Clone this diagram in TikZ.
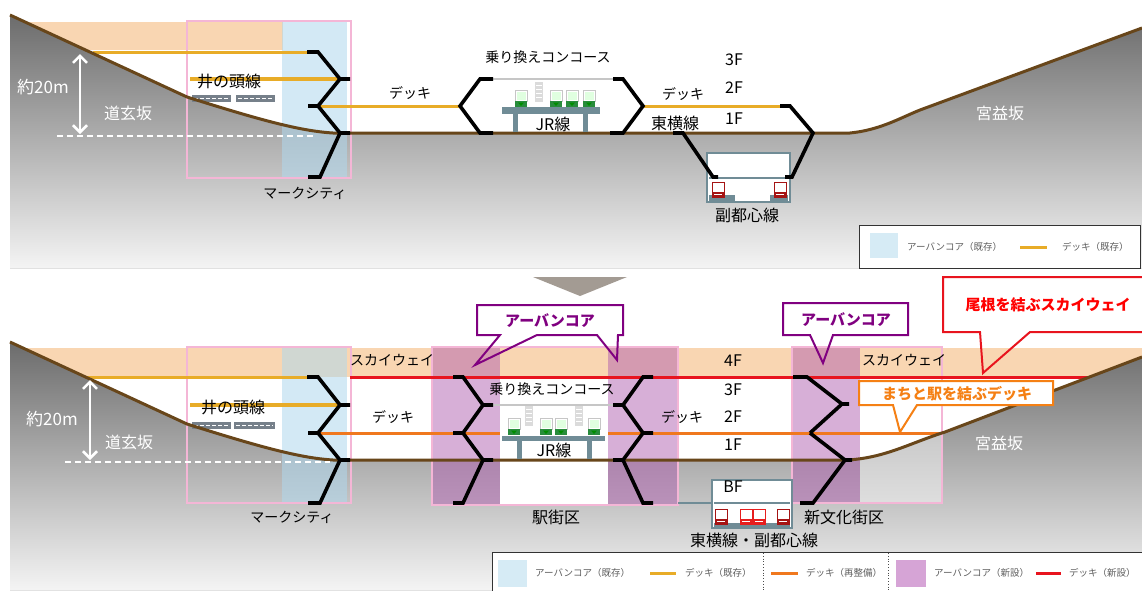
\documentclass[tikz,border=0pt]{standalone}
\usepackage{fontspec}
\setmainfont{Noto Sans CJK JP}
\usetikzlibrary{arrows.meta}

\definecolor{peach}{RGB}{249,214,178}
\definecolor{corebl}{RGB}{176,216,238}
\definecolor{legbl}{RGB}{214,235,245}
\definecolor{corepur}{RGB}{176,96,176}
\definecolor{legpur}{RGB}{214,164,214}
\definecolor{deckyel}{RGB}{232,172,40}
\definecolor{deckora}{RGB}{240,120,30}
\definecolor{deckred}{RGB}{232,20,30}
\definecolor{boxpink}{RGB}{244,182,214}
\definecolor{soil}{RGB}{104,70,26}
\definecolor{steel}{RGB}{112,140,150}
\definecolor{railgray}{RGB}{118,128,138}
\definecolor{calpur}{RGB}{128,0,128}
\definecolor{calora}{RGB}{245,128,20}
\definecolor{legtxt}{RGB}{95,95,95}
\definecolor{wedge}{RGB}{163,155,147}
\definecolor{jrgreen}{RGB}{40,140,60}
\definecolor{trainred}{RGB}{165,20,20}
\definecolor{trainbright}{RGB}{230,30,30}
\definecolor{gtop}{RGB}{108,108,108}
\definecolor{gmid}{RGB}{150,150,150}
\definecolor{gbot}{RGB}{244,244,244}

\tikzset{
  jrtrain/.pic={
    \fill[white] (0,0) rectangle (12,17);
    \draw[gray!45, line width=0.8pt] (0,0) rectangle (12,11);
    \fill[green!12] (1.5,1.5) rectangle (10.5,9.5);
    \fill[jrgreen] (0,11) rectangle (12,17);
    \fill[green!55!black] (3,12.5) -- (9,12.5) -- (6,16) -- cycle;
  },
  redtrain/.pic={
    \fill[white] (0,0) rectangle (12,15);
    \fill[trainred] (0,10) rectangle (12,15);
    \draw[trainred, line width=0.8pt] (0,0) rectangle (12,15);
    \draw[white, line width=0.6pt] (2,12.5) -- (10,12.5);
  },
  redtrainb/.pic={
    \fill[white] (0,0) rectangle (12,15);
    \fill[trainbright] (0,10) rectangle (12,15);
    \draw[trainbright, line width=0.8pt] (0,0) rectangle (12,15);
    \draw[white, line width=0.6pt] (2,12.5) -- (10,12.5);
  },
  stairs/.pic={
    \fill[gray!28] (0,0) rectangle (8,20);
    \foreach \k in {3,7,11,15}{\draw[white, line width=1pt] (1,\k) -- (7,\k);}
  }
}

\begin{document}
\begin{tikzpicture}[x=1pt,y=-1pt,
  conn/.style={line width=3.6pt, black, line join=miter},
  deckline/.style={line width=3pt},
  railline/.style={line width=4pt, deckyel},
  surface/.style={soil, line width=3pt, line join=round},
  lbl/.style={inner sep=0pt, font=\fontsize{16}{19}\selectfont},
  lblk/.style={inner sep=0pt, font=\fontsize{14}{17}\selectfont},
  wlbl/.style={inner sep=0pt, text=white, font=\fontsize{16}{19}\selectfont},
  calltxt/.style={inner sep=0pt, font=\bfseries\fontsize{15}{18}\selectfont},
  leg/.style={inner sep=0pt, text=legtxt, font=\fontsize{9.5}{12}\selectfont},
  levelarrow/.style={white, line width=2.5pt,
    {Straight Barb[length=7pt,width=14pt]}-{Straight Barb[length=7pt,width=14pt]}},
  levelmark/.style={white, line width=1.2pt, dash pattern=on 6pt off 4pt},
  corebox/.style={boxpink, line width=2pt}
]
\useasboundingbox (0,0) rectangle (1142,590);
\fill[white] (0,0) rectangle (1142,590);

% ================= upper section: present state =================
\fill[peach] (10,22) rectangle (283,50);
\fill[top color=gtop, middle color=gmid, bottom color=gbot]
  (10,15) -- (187,97) .. controls (260,120) and (300,131) .. (333,133)
  -- (850,133) .. controls (880,130) and (900,118) .. (920,110)
  -- (1142,28) -- (1142,268) -- (10,268) -- cycle;
\fill[corebl, opacity=0.55] (282,22) rectangle (347,178);
\draw[corebox] (187,21) rectangle (351,178);

% decks and rails
\draw[deckline, deckyel] (93,52) -- (307,52);
\draw[railline] (190,79) -- (340,79);
\draw[deckline, deckyel] (318,106) -- (460,106);
\draw[deckline, deckyel] (643,106) -- (780,106);
\fill[railgray] (192,95) rectangle (231,102);
\fill[railgray] (236,95) rectangle (275,102);
\draw[white, line width=1.2pt, dash pattern=on 4pt off 2pt] (194,98.5) -- (229,98.5);
\draw[white, line width=1.2pt, dash pattern=on 4pt off 2pt] (238,98.5) -- (273,98.5);

% ground surface
\draw[surface] (10,15) -- (187,97) .. controls (260,120) and (300,131) .. (333,133)
  -- (850,133) .. controls (880,130) and (900,118) .. (920,110) -- (1142,28);

% JR station
\draw[gray!45, line width=2.5pt] (493,79) -- (613,79);
\pic at (535,82) {stairs};
\fill[steel] (502,107) rectangle (600,114);
\fill[steel] (513,114) rectangle (518,132);
\fill[steel] (583,114) rectangle (588,132);
\pic at (515,90) {jrtrain};
\pic at (550,90) {jrtrain};
\pic at (566,90) {jrtrain};
\pic at (583,90) {jrtrain};

% Fukutoshin line box
\draw[steel, line width=2.5pt, fill=white] (707,153) rectangle (790,202);
\draw[steel, line width=1.2pt] (709,178) -- (788,178);
\fill[steel] (709,195) rectangle (735,201);
\fill[steel] (770,195) rectangle (788,201);
\pic at (712,182) {redtrain};
\pic at (774,182) {redtrain};

% vertical links
\draw[conn] (307,52) -- (318,52) -- (340,79) -- (350,79);
\draw[conn] (340,79) -- (318,106) -- (308,106);
\draw[conn] (318,106) -- (340,133) -- (350,133);
\draw[conn] (340,133) -- (320,177) -- (308,177);
\draw[conn] (493,79) -- (480,79) -- (460,106) -- (480,133) -- (493,133);
\draw[conn] (613,79) -- (623,79) -- (643,106) -- (623,133) -- (610,133);
\draw[conn] (780,106) -- (790,106) -- (813,133) -- (792,177) -- (785,177);
\draw[conn] (673,133) -- (683,133) -- (713,177) -- (718,177);

% level marks
\draw[levelmark] (57,136) -- (315,136);
\draw[levelarrow] (80,54) -- (80,134);

% labels
\node[wlbl, font=\fontsize{17}{20}\selectfont] (u-h) at (43,87) {約20m};
\node[wlbl] (u-dg) at (128,113) {道玄坂};
\node[wlbl] (u-mm) at (1000,113) {宮益坂};
\node[lbl] (u-ik) at (229,81) {井の頭線};
\node[lblk] (u-mc) at (305,193) {マークシティ};
\node[lblk] (u-dl) at (410,93) {デッキ};
\node[lblk] (u-cc) at (548,57) {乗り換えコンコース};
\node[lbl] (u-jr) at (553,124) {JR線};
\node[lblk] (u-dr) at (683,94) {デッキ};
\node[lbl] (u-ty) at (675,123) {東横線};
\node[lbl] (u-3f) at (734,60) {3F};
\node[lbl] (u-2f) at (734,88) {2F};
\node[lbl] (u-1f) at (734,119) {1F};
\node[lbl] (u-fk) at (747,215) {副都心線};

% legend (present)
\draw[fill=white, draw=black!80, line width=1pt] (859,225) rectangle (1140,268);
\fill[legbl] (870,233) rectangle (898,258);
\node[leg, anchor=west] (ul-core) at (907,247) {アーバンコア（既存）};
\draw[deckline, deckyel] (1020,247) -- (1047,247);
\node[leg, anchor=west] (ul-deck) at (1062,247) {デッキ（既存）};

% transition mark
\fill[wedge] (533,277) -- (627,277) -- (580,296) -- cycle;

% ================= lower section: plan =================
\fill[peach] (10,348) rectangle (1142,377);
\fill[top color=gtop, middle color=gmid, bottom color=gbot]
  (10,342) -- (187,424) .. controls (260,447) and (300,458) .. (333,460)
  -- (847,460) .. controls (885,458) and (910,443) .. (945,432)
  -- (1142,357) -- (1142,590) -- (10,590) -- cycle;
\fill[white] (500,460) rectangle (608,505);
\fill[white, opacity=0.45] (860,378) rectangle (942,503);
\fill[corebl, opacity=0.55] (282,348) rectangle (347,503);
\fill[corepur, opacity=0.5] (432,347) rectangle (500,505);
\fill[corepur, opacity=0.5] (608,347) rectangle (678,505);
\fill[corepur, opacity=0.5] (792,347) rectangle (860,503);
\draw[corebox] (187,347) rectangle (351,503);
\draw[corebox] (432,347) rectangle (678,505);
\draw[corebox] (792,347) rectangle (942,503);

% decks and rails
\draw[deckline, deckyel] (86,377) -- (307,377);
\draw[deckline, deckred] (350,377) -- (1088,377);
\draw[railline] (190,405) -- (340,405);
\draw[deckline, deckora] (318,433) -- (500,433);
\draw[deckline, deckora] (608,433) -- (940,433);
\fill[railgray] (192,422) rectangle (231,429);
\fill[railgray] (234,422) rectangle (275,429);
\draw[white, line width=1.2pt, dash pattern=on 4pt off 2pt] (194,425.5) -- (229,425.5);
\draw[white, line width=1.2pt, dash pattern=on 4pt off 2pt] (236,425.5) -- (273,425.5);

% ground surface
\draw[surface] (10,342) -- (187,424) .. controls (260,447) and (300,458) .. (333,460)
  -- (847,460) .. controls (885,458) and (910,443) .. (945,432) -- (1142,357);

% JR station
\draw[gray!45, line width=2.5pt] (493,405) -- (613,405);
\pic at (525,406) {stairs};
\pic at (575,406) {stairs};
\fill[steel] (502,436) rectangle (605,441);
\fill[steel] (517,441) rectangle (522,459);
\fill[steel] (587,441) rectangle (592,459);
\pic at (508,418) {jrtrain};
\pic at (540,418) {jrtrain};
\pic at (555,418) {jrtrain};
\pic at (588,418) {jrtrain};

% Toyoko / Fukutoshin box
\draw[steel, line width=1.5pt] (678,503) -- (712,503);
\draw[steel, line width=2.5pt, fill=white] (712,480) rectangle (792,528);
\draw[steel, line width=1.2pt] (714,503) -- (790,503);
\fill[steel] (714,523) rectangle (790,527);
\pic at (715,509) {redtrain};
\pic at (740,509) {redtrainb};
\pic at (753,509) {redtrainb};
\pic at (777,509) {redtrain};

% vertical links
\draw[conn] (307,377) -- (318,377) -- (340,405) -- (350,405);
\draw[conn] (340,405) -- (318,433) -- (308,433);
\draw[conn] (318,433) -- (340,460) -- (350,460);
\draw[conn] (340,460) -- (320,503) -- (308,503);
\draw[conn] (453,377) -- (463,377) -- (483,405) -- (493,405);
\draw[conn] (483,405) -- (463,433) -- (453,433);
\draw[conn] (463,433) -- (483,460) -- (493,460);
\draw[conn] (483,460) -- (463,503) -- (453,503);
\draw[conn] (653,377) -- (643,377) -- (623,405) -- (613,405);
\draw[conn] (623,405) -- (643,433) -- (653,433);
\draw[conn] (643,433) -- (623,460) -- (613,460);
\draw[conn] (623,460) -- (643,503) -- (653,503);
\draw[conn] (793,377) -- (807,377) -- (842,404) -- (849,404);
\draw[conn] (842,404) -- (810,433);
\draw[conn] (810,433) -- (845,460) -- (852,460);
\draw[conn] (845,460) -- (813,503) -- (800,503);

% level marks
\draw[levelmark] (65,462) -- (330,462);
\draw[levelarrow] (90,380) -- (90,460);

% labels
\node[wlbl, font=\fontsize{17}{20}\selectfont] (l-h) at (52,419) {約20m};
\node[wlbl] (l-dg) at (129,442) {道玄坂};
\node[wlbl] (l-mm) at (999,443) {宮益坂};
\node[lbl] (l-ik) at (233,407) {井の頭線};
\node[lblk] (l-mc) at (292,517) {マークシティ};
\node[lblk] (l-swl) at (392,360) {スカイウェイ};
\node[lblk] (l-swr) at (904,360) {スカイウェイ};
\node[lblk] (l-dl) at (393,417) {デッキ};
\node[lblk] (l-cc) at (552,389) {乗り換えコンコース};
\node[lbl] (l-jr) at (554,450) {JR線};
\node[lbl] (l-ek) at (556,517) {駅街区};
\node[lblk] (l-dr) at (682,417) {デッキ};
\node[lbl] (l-4f) at (733,361) {4F};
\node[lbl] (l-3f) at (733,390) {3F};
\node[lbl] (l-2f) at (733,417) {2F};
\node[lbl] (l-1f) at (733,445) {1F};
\node[lbl] (l-bf) at (733,487) {BF};
\node[lbl] (l-tf) at (754,540) {東横線・副都心線};
\node[lbl] (l-sb) at (844,517) {新文化街区};

% callouts
\fill[white] (477,305) rectangle (623,335);
\draw[calpur, line width=2pt, line join=miter]
  (477,305) -- (623,305) -- (623,335) -- (618,335) -- (617,360) -- (597,335)
  -- (537,335) -- (475,365) -- (500,335) -- (477,335) -- cycle;
\node[calltxt, text=calpur] (c-core1) at (550,321) {アーバンコア};

\fill[white] (783,303) rectangle (908,335);
\draw[calpur, line width=2pt, line join=miter]
  (783,303) -- (908,303) -- (908,335) -- (833,335) -- (823,363) -- (810,335)
  -- (783,335) -- cycle;
\node[calltxt, text=calpur] (c-core2) at (846,320) {アーバンコア};

\fill[white] (943,277) rectangle (1150,332);
\draw[deckred, line width=2pt, line join=miter]
  (943,277) -- (1150,277) -- (1150,332) -- (1030,332) -- (983,373) -- (980,332)
  -- (943,332) -- cycle;
\node[calltxt, text=red] (c-sky) at (1048,305) {尾根を結ぶスカイウェイ};

\fill[white] (859,381) rectangle (1053,405);
\draw[calora, line width=2pt, line join=miter]
  (859,381) -- (1053,381) -- (1053,405) -- (917,405) -- (900,432) -- (893,405)
  -- (859,405) -- cycle;
\node[calltxt, text=calora] (c-deck) at (957,394) {まちと駅を結ぶデッキ};

% legend (plan)
\draw[fill=white, draw=black!80, line width=1pt] (492,552) rectangle (1160,600);
\fill[legbl] (498,560) rectangle (527,587);
\node[leg, anchor=west] (ll-core1) at (535,573) {アーバンコア（既存）};
\draw[deckline, deckyel] (650,573) -- (676,573);
\node[leg, anchor=west] (ll-deck1) at (685,573) {デッキ（既存）};
\draw[black!70, dotted, line width=0.8pt] (763,553) -- (763,590);
\draw[deckline, deckora] (771,573) -- (798,573);
\node[leg, anchor=west] (ll-deck2) at (806,573) {デッキ（再整備）};
\draw[black!70, dotted, line width=0.8pt] (888,553) -- (888,590);
\fill[legpur] (896,560) rectangle (926,587);
\node[leg, anchor=west] (ll-core2) at (934,573) {アーバンコア（新設）};
\draw[deckline, deckred] (1036,573) -- (1061,573);
\node[leg, anchor=west] (ll-deck3) at (1069,573) {デッキ（新設）};
\end{tikzpicture}
\end{document}
